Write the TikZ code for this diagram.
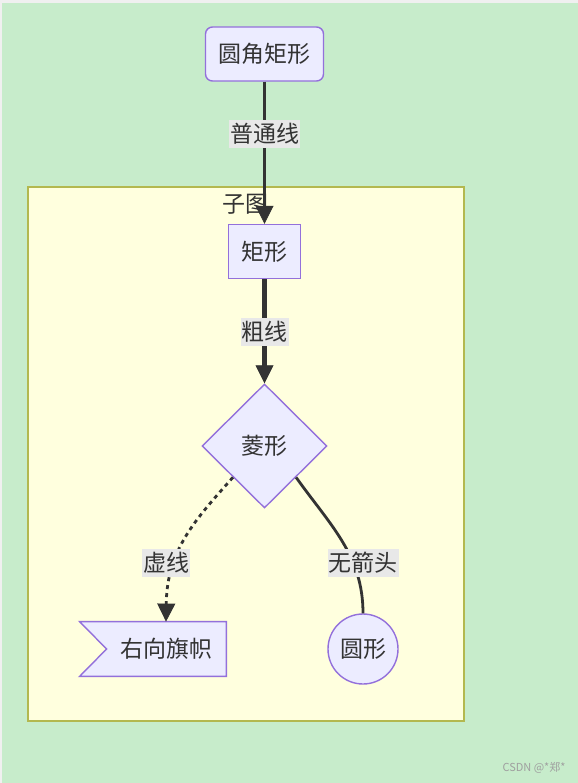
\documentclass[tikz,border=0pt]{standalone}
\usepackage{fontspec}
\setmainfont{Noto Sans CJK SC}
\usetikzlibrary{shapes.geometric, arrows.meta}

\definecolor{bggreen}{HTML}{C7ECCB}
\definecolor{subfill}{HTML}{FFFFDE}
\definecolor{subline}{HTML}{B3B84F}
\definecolor{nodefill}{HTML}{ECECFF}
\definecolor{nodeline}{HTML}{9370DB}
\definecolor{edgecol}{HTML}{333333}
\definecolor{labelbg}{HTML}{E8E8E8}

\begin{document}
\begin{tikzpicture}[x=0.5pt, y=-0.5pt,
        every node/.style={font=\fontsize{11.5}{13}\selectfont, text=edgecol},
        shapebox/.style={draw=nodeline, fill=nodefill, line width=0.7pt},
        box/.style={shapebox, minimum height=27pt, inner xsep=6.5pt, inner ysep=0pt},
        elabel/.style={fill=labelbg, inner xsep=0.5pt, inner ysep=0pt, minimum height=14pt},
        edge/.style={draw=edgecol, line width=1.4pt},
        tip/.style={-{Triangle[length=9pt, width=9pt, line width=0.4pt]}}]
        \useasboundingbox (0,0) rectangle (578,783);
        \fill[bggreen] (0,0) rectangle (578,783);
        \fill[gray!12] (0,0) rectangle (578,3);
        \fill[gray!12] (0,0) rectangle (2,783);

        % subgraph
        \draw[draw=subline, fill=subfill, line width=0.8pt] (28,187) rectangle (464,721);
        \node (sublabel) at (245,204) {子图};

        % nodes
        \node[box, rounded corners=3.5pt] (rr) at (264.5,54) {圆角矩形};
        \node[box] (rect) at (264.5,251.5) {矩形};
        \node[diamond, shapebox, minimum width=62.5pt, minimum height=62pt, inner sep=0pt] (dia) at (264.5,446) {};
        \node (diatext) at (264.5,446) {菱形};
        \node[circle, shapebox, minimum size=35pt, inner sep=0pt] (circ) at (363,649) {圆形};

        \node[minimum width=73pt, minimum height=27pt, inner sep=0pt] (flag) at (153,649) {};
        \draw[shapebox] (flag.north west) -- (flag.north east) -- (flag.south east)
            -- (flag.south west) -- ([xshift=13.5pt]flag.west) -- cycle;
        \node (flagtext) at (166,649) {右向旗帜};

        % edges
        \draw[edge, tip] (rr) -- (rect);
        \draw[edge, tip, line width=2.4pt] (rect) -- (dia);
        \draw[edge, tip, dash pattern=on 2pt off 2pt] (dia.south west)
            .. controls (195,520) and (167,550) .. (flagtext |- flag.north);
        \draw[edge] (dia.south east) .. controls (330,525) and (363,555) .. (circ.north);

        % edge labels
        \node[elabel] (lbnormal) at (264.5,134) {普通线};
        \node[elabel] (lbthick) at (264.5,332) {粗线};
        \node[elabel] (lbdotted) at (166,563) {虚线};
        \node[elabel] (lbopen) at (363,563) {无箭头};

        \node[font=\fontsize{5.5}{6}\selectfont, text=gray!75] (mark) at (534,768) {CSDN @*郑*};
    \end{tikzpicture}
\end{document}
